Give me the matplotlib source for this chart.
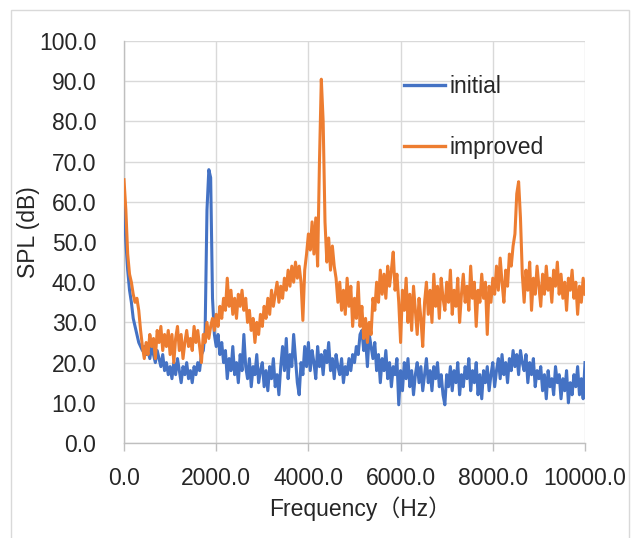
import matplotlib.pyplot as plt
import numpy as np
from matplotlib.patches import Rectangle

# frequency axis, one point every 40 Hz from 0 to 10000 Hz
freq = np.arange(0, 10001, 40)

# SPL (dB) of the initial design
initial = [
    61, 50, 43, 38, 35, 31, 29, 27, 25, 24, 23, 24, 22, 23, 21, 24, 22, 20, 23, 21, 19, 22, 18, 20, 17,
    19, 16, 20, 17, 21, 18, 15, 19, 17, 20, 16, 18, 15, 19, 17, 20, 18, 22, 23, 28, 58, 68, 66, 36, 27,
    24, 27, 22, 25, 20, 23, 16, 21, 18, 24, 17, 20, 15, 22, 18, 27, 19, 16, 21, 14, 19, 17, 22, 15, 18,
    20, 14, 18, 13, 19, 16, 21, 14, 17, 12, 19, 24, 18, 26, 16, 22, 19, 27, 21, 15, 12, 20, 17, 24, 19,
    25, 18, 23, 20, 16, 24, 19, 22, 17, 23, 20, 25, 18, 21, 16, 22, 19, 17, 21, 15, 19, 17, 21, 18, 22,
    20, 24, 22, 27, 28, 23, 26, 19, 27, 24, 21, 25, 18, 22, 15, 21, 18, 23, 16, 20, 14, 19, 17, 21, 9.5,
    18, 13, 20, 16, 21, 14, 18, 12, 17, 20, 15, 19, 13, 17, 21, 15, 18, 13, 19, 16, 20, 14, 17, 12, 9.5,
    17, 14, 19, 13, 18, 15, 20, 12, 17, 14, 19, 16, 21, 13, 18, 15, 20, 12, 17, 11, 18, 15, 19, 13, 17,
    20, 14, 18, 21, 16, 22, 17, 20, 15, 21, 18, 23, 19, 22, 17, 23, 20, 18, 22, 15, 20, 17, 21, 14, 18,
    16, 19, 13, 17, 11, 18, 14, 16, 12, 19, 15, 17, 11, 16, 13, 18, 10, 15, 12, 17, 14, 19, 12, 16, 11,
    20,
]

# SPL (dB) of the improved design
improved = [
    65.5, 58, 47, 42, 40, 37, 35, 36, 33, 28, 24, 21, 25, 22, 27, 24, 26, 21, 28, 25, 29, 23, 27, 24, 28,
    22, 27, 20, 26, 29, 23, 27, 21, 25, 28, 24, 26, 23, 29, 25, 28, 24, 20, 27, 25, 30, 26, 29, 31, 28,
    32, 29, 34, 31, 36, 33, 41, 34, 38, 32, 36, 31, 37, 34, 38, 33, 36, 30, 33, 28, 31, 25, 30, 27, 32,
    29, 34, 31, 36, 32, 38, 34, 37, 40, 35, 39, 36, 41, 38, 43, 39, 44, 40, 45, 41, 44, 40, 30.5, 43, 47,
    52, 48, 55, 47, 56, 44, 70, 90.5, 80, 55, 45, 51, 43, 49, 44, 41, 35, 40, 33, 38, 32, 41, 34, 39, 29,
    36, 31, 40, 29, 34, 26, 31, 25, 30, 27, 36, 33, 40, 35, 43, 37, 42, 36, 44, 39, 43, 47.5, 38, 42, 35,
    25, 38, 33, 41, 30, 37, 28, 39, 33, 27, 36, 31, 24, 35, 40, 32, 38, 30, 42, 34, 39, 31, 41, 36, 33,
    40, 35, 43, 32, 38, 34, 41, 30, 37, 42, 35, 39, 33, 44, 36, 40, 29, 38, 35, 42, 36, 40, 27, 39, 35,
    41, 37, 44, 38, 46, 40, 35, 43, 39, 47, 44, 49, 52, 62, 65, 56, 42, 35, 43, 38, 45, 33, 41, 37, 44,
    39, 34, 42, 37, 44, 38, 41, 35, 43, 39, 45, 37, 42, 36, 40, 33, 41, 38, 43, 36, 40, 32, 39, 35, 41,
    37,
]

x_ticks = [0, 2000, 4000, 6000, 8000, 10000]
y_ticks = [0, 10, 20, 30, 40, 50, 60, 70, 80, 90, 100]

plt.rcParams['font.family'] = ['Liberation Sans', 'Noto Sans CJK JP']
text_color = '#262626'
fs = 16.5

fig = plt.figure(figsize=(6.32, 5.38), dpi=100)
ax = fig.add_axes([124 / 632, 95 / 538, 461 / 632, 402 / 538])

# chart area border (cut off at right/bottom in the original)
fig.patches.append(Rectangle((11 / 632, -0.1), 618 / 632, 1.1 - 10 / 538,
                             transform=fig.transFigure, fill=False,
                             edgecolor='#D9D9D9', lw=1.0))

ax.plot(freq, initial, color='#4472C4', lw=2.2, label='initial', zorder=3)
ax.plot(freq, improved, color='#ED7D31', lw=2.2, label='improved', zorder=4)

ax.set_xlim(0, 10000)
ax.set_ylim(0, 100)
ax.set_xticks(x_ticks)
ax.set_yticks(y_ticks)
ax.set_xticklabels([f'{v:.1f}' for v in x_ticks])
ax.set_yticklabels([f'{v:.1f}' for v in y_ticks])
ax.grid(True, color='#D9D9D9', lw=1.0, zorder=0)
ax.set_axisbelow(True)

for side in ['top', 'right']:
    ax.spines[side].set_visible(False)
for side in ['left', 'bottom']:
    ax.spines[side].set_color('#BFBFBF')
    ax.spines[side].set_linewidth(1.0)

ax.tick_params(axis='x', length=6, width=1.0, color='#BFBFBF', pad=11,
               labelsize=fs, labelcolor=text_color)
ax.tick_params(axis='y', length=0, pad=20, labelsize=fs, labelcolor=text_color)

fig.text(28 / 632, 1 - 232 / 538, 'SPL (dB)', rotation=90, ha='center', va='center',
         fontsize=fs, color=text_color)
fig.text(360 / 632, 1 - 509 / 538, 'Frequency（Hz）', ha='center', va='center',
         fontsize=fs, color=text_color)

leg = ax.legend(frameon=False, loc='upper left', bbox_to_anchor=(0.607, 0.915),
                fontsize=fs, handlelength=1.8, handletextpad=0.2,
                labelspacing=1.66, borderpad=0, borderaxespad=0)
for t in leg.get_texts():
    t.set_color(text_color)
for h in leg.get_lines():
    h.set_linewidth(2.4)

fig.savefig('out.png', dpi=100)
